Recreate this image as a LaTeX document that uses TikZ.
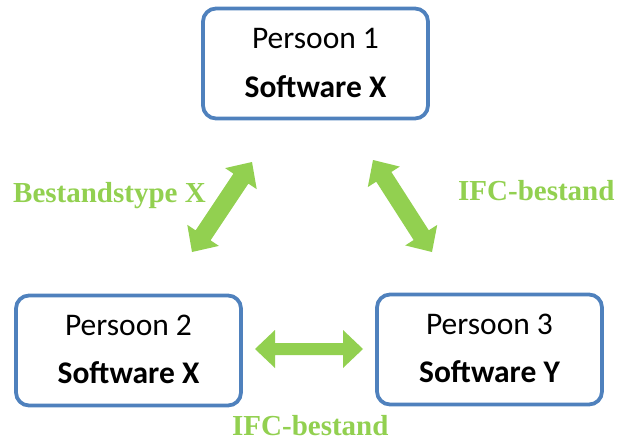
\documentclass[tikz,border=0pt]{standalone}
\usepackage{fontspec}
\setmainfont{Carlito}
\newfontfamily\labelfont{Liberation Serif}
\usetikzlibrary{calc}

\definecolor{boxblue}{HTML}{4F81BD}
\definecolor{flowgreen}{HTML}{92D050}

% double-headed block arrow between two tip coordinates
% #1,#2 tips; #3 shaft half width; #4 head half width; #5 head length
\newcommand\blockarrow[5]{%
  \fill[flowgreen]
    (#1)
    -- ($(#1)!#5!(#2)!#4!90:(#2)$)
    -- ($(#1)!#5!(#2)!#3!90:(#2)$)
    -- ($(#2)!#5!(#1)!#3!-90:(#1)$)
    -- ($(#2)!#5!(#1)!#4!-90:(#1)$)
    -- (#2)
    -- ($(#2)!#5!(#1)!#4!90:(#1)$)
    -- ($(#2)!#5!(#1)!#3!90:(#1)$)
    -- ($(#1)!#5!(#2)!#3!-90:(#2)$)
    -- ($(#1)!#5!(#2)!#4!-90:(#2)$)
    -- cycle;}

\tikzset{
  personbox/.style={draw=boxblue, line width=3.75pt, rounded corners=13pt,
    fill=white, minimum width=225pt, minimum height=110pt, inner sep=0pt},
  nametext/.style={anchor=base, font=\fontsize{31.5}{36}\selectfont},
  softtext/.style={anchor=base, font=\fontsize{31.5}{36}\selectfont\bfseries},
  flowlabel/.style={anchor=base west, text=flowgreen, inner sep=0pt,
    font=\labelfont\bfseries\fontsize{29}{34}\selectfont},
}

\begin{document}
\begin{tikzpicture}[x=1pt, y=-1pt]
  \useasboundingbox (0,0) rectangle (617,441);

  % the three persons
  \node[personbox] (p1) at (315.5,63.5) {};
  \node[personbox] (p2) at (128.5,350.5) {};
  \node[personbox] (p3) at (489.5,349.5) {};

  \node[nametext] (p1a) at ($(p1.center)+(0,-14.5)$) {Persoon 1};
  \node[softtext] (p1b) at ($(p1.center)+(0,33.5)$) {Software X};
  \node[nametext] (p2a) at ($(p2.center)+(0,-15.5)$) {Persoon 2};
  \node[softtext] (p2b) at ($(p2.center)+(0,32.5)$) {Software X};
  \node[nametext] (p3a) at ($(p3.center)+(0,-15.5)$) {Persoon 3};
  \node[softtext] (p3b) at ($(p3.center)+(0,32.5)$) {Software Y};

  % arrow tips
  \coordinate (a12) at (252,162);
  \coordinate (a21) at (192,252);
  \coordinate (a13) at (373,160);
  \coordinate (a31) at (432,252);
  \coordinate (a23) at (255,349);
  \coordinate (a32) at (363,349);

  \blockarrow{a12}{a21}{9pt}{19pt}{20pt}
  \blockarrow{a13}{a31}{9pt}{19pt}{20pt}
  \blockarrow{a23}{a32}{6pt}{19pt}{20pt}

  % exchange labels
  \node[flowlabel] (l12) at (13,202) {Bestandstype X};
  \node[flowlabel] (l13) at (458,200) {IFC-bestand};
  \node[flowlabel] (l23) at (232,435) {IFC-bestand};
\end{tikzpicture}
\end{document}
